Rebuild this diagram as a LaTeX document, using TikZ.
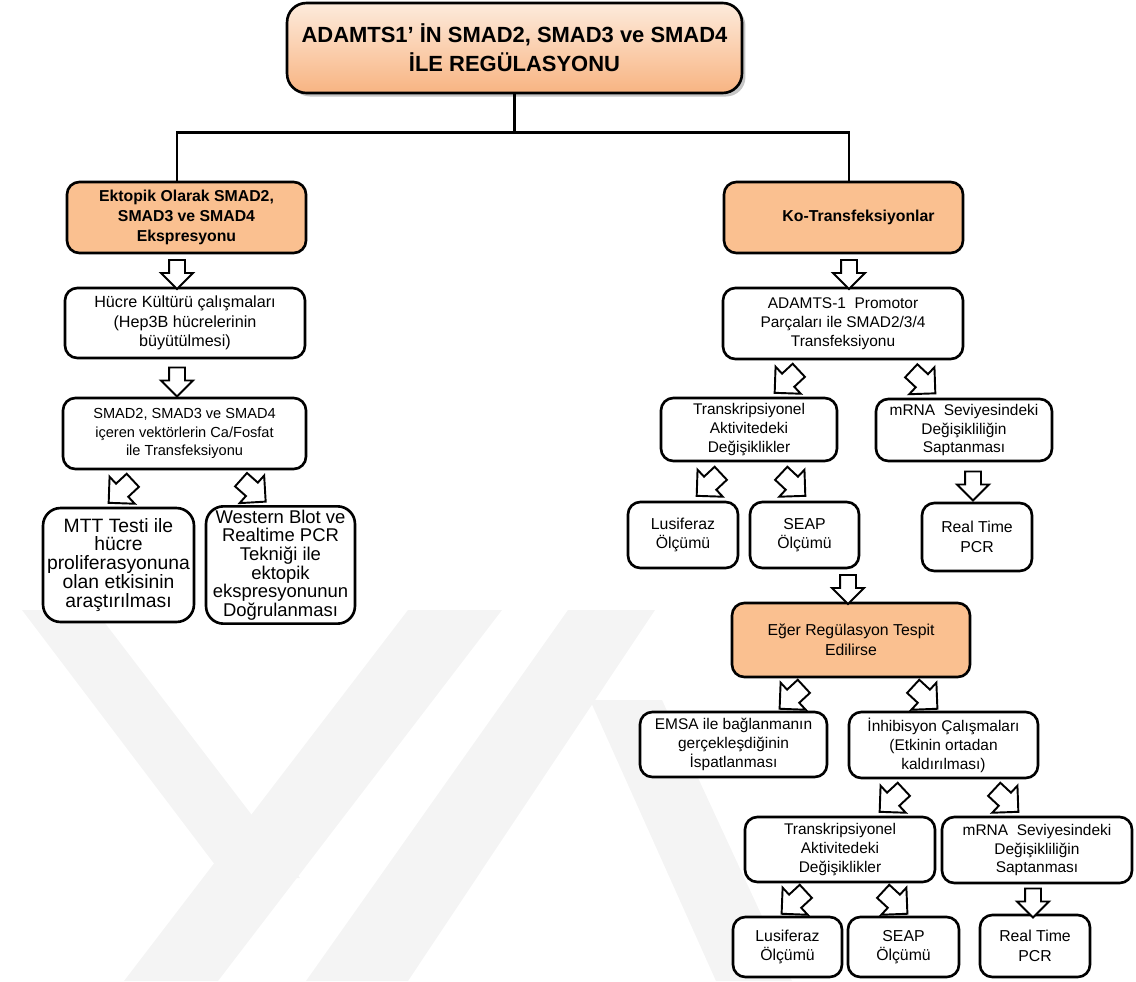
\documentclass[tikz,border=0pt]{standalone}
\usepackage{fontspec}
\setmainfont{Liberation Sans}
\usetikzlibrary{arrows.meta,positioning,calc,shapes.arrows,shadows}
\definecolor{porange}{HTML}{FAC090}
\definecolor{ptitlet}{HTML}{FDEBDC}
\definecolor{ptitleb}{HTML}{F8B482}
\definecolor{wmark}{HTML}{F4F4F4}
\tikzset{
  % white rounded box with a heavy black stroke
  box/.style   = {rectangle, rounded corners=7pt, draw=black, line width=1.5pt, fill=white,
                  align=center, inner sep=2pt, font=\fontsize{8.8}{10.8}\selectfont},
  hdr/.style   = {box, fill=porange, font=\fontsize{9}{11.4}\selectfont\bfseries},
  ttl/.style   = {box, rounded corners=11pt, top color=ptitlet, bottom color=ptitleb,
                  drop shadow={shadow xshift=2pt, shadow yshift=-2pt, opacity=0.45},
                  font=\fontsize{12.5}{16.5}\selectfont\bfseries},
  trunk/.style = {line width=1.6pt, black},
  band/.style  = {fill=wmark, draw=none},
  harrow/.style  = {single arrow, draw=black, line width=1.1pt, fill=white, inner sep=0.14cm,
                    minimum height=0.58cm, single arrow head extend=0.16cm},
  harrowd/.style = {harrow, inner sep=0.16cm, minimum height=0.66cm, single arrow head extend=0.19cm},
}

\begin{document}
\begin{tikzpicture}[x=0.02cm, y=-0.02cm]
\useasboundingbox (0,0) rectangle (1136,981);

% faint watermark behind everything
\fill[band] (22,610) -- (95,610) -- (300,878) -- (225,878) -- cycle;
\fill[band] (408,610) -- (502,610) -- (218,981) -- (124,981) -- cycle;
\fill[band] (568,610) -- (655,610) -- (408,981) -- (306,981) -- cycle;
\fill[band] (590,700) -- (662,700) -- (792,981) -- (716,981) -- cycle;

% title and fork
\node[ttl, minimum width=9.1cm, minimum height=1.8cm] (title) at (514.5,48)
  {ADAMTS1’ İN SMAD2, SMAD3 ve SMAD4\\İLE REGÜLASYONU};

% left branch
\node[hdr, minimum width=4.78cm, minimum height=1.42cm] (ekt) at (186.5,217.5)
  {Ektopik Olarak SMAD2,\\SMAD3 ve SMAD4\\Ekspresyonu};
\node[box, minimum width=4.8cm, minimum height=1.4cm, font=\fontsize{9.2}{11.2}\selectfont] (cult) at (185,323)
  {Hücre Kültürü çalışmaları\\(Hep3B hücrelerinin\\büyütülmesi)};
\node[box, minimum width=4.86cm, minimum height=1.42cm, font=\fontsize{8.3}{10.5}\selectfont] (tfx) at (184.5,433.5)
  {SMAD2, SMAD3 ve SMAD4\\içeren vektörlerin Ca/Fosfat\\ile Transfeksiyonu};
\node[box, rounded corners=10pt, minimum width=3.02cm, minimum height=2.28cm, font=\fontsize{11}{10.8}\selectfont] (mtt) at (118.5,565)
  {MTT Testi ile\\hücre\\proliferasyonuna\\olan etkisinin\\araştırılması};
\node[box, rounded corners=10pt, minimum width=2.98cm, minimum height=2.28cm, font=\fontsize{10.5}{10.6}\selectfont] (wblot) at (280.5,565)
  {Western Blot ve\\Realtime PCR\\Tekniği ile\\ektopik\\ekspresyonunun\\Doğrulanması};

% right branch
\node[hdr, minimum width=4.78cm, minimum height=1.42cm] (kotf) at (843.5,217.5) {\hspace*{6mm}Ko-Transfeksiyonlar};
\node[box, minimum width=4.8cm, minimum height=1.42cm] (prom) at (843,323.5)
  {ADAMTS-1\ \ Promotor\\Parçaları ile SMAD2/3/4\\Transfeksiyonu};
\node[box, minimum width=3.52cm, minimum height=1.26cm] (trakt1) at (749,429.5)
  {Transkripsiyonel\\Aktivitedeki\\Değişiklikler};
\node[box, minimum width=3.52cm, minimum height=1.24cm] (mrna1) at (964,430)
  {mRNA\ \ Seviyesindeki\\Değişikliliğin\\Saptanması};
\node[box, minimum width=2.2cm, minimum height=1.32cm, font=\fontsize{9}{11.2}\selectfont] (lus1) at (683,535) {Lusiferaz\\Ölçümü};
\node[box, minimum width=2.18cm, minimum height=1.32cm, font=\fontsize{9}{11.2}\selectfont] (seap1) at (804.5,535) {SEAP\\Ölçümü};
\node[box, minimum width=2.2cm, minimum height=1.36cm, font=\fontsize{9}{11.2}\selectfont] (rtpcr1) at (977,537) {Real Time\\PCR};
\node[hdr, minimum width=4.76cm, minimum height=1.48cm, font=\fontsize{9}{11.2}\selectfont] (eger) at (851,640)
  {Eğer Regülasyon Tespit\\Edilirse};
\node[box, minimum width=3.74cm, minimum height=1.3cm] (emsa) at (733.5,744.5)
  {EMSA\ ile bağlanmanın\\gerçekleşdiğinin\\İspatlanması};
\node[box, minimum width=3.78cm, minimum height=1.32cm] (inhib) at (943.5,745)
  {İnhibisyon Çalışmaları\\(Etkinin ortadan\\kaldırılması)};
\node[box, minimum width=3.8cm, minimum height=1.3cm] (trakt2) at (840,849.5)
  {Transkripsiyonel\\Aktivitedeki\\Değişiklikler};
\node[box, minimum width=3.8cm, minimum height=1.32cm] (mrna2) at (1037,850)
  {mRNA\ \ Seviyesindeki\\Değişikliliğin\\Saptanması};
\node[box, minimum width=2.18cm, minimum height=1.2cm, font=\fontsize{9}{11.2}\selectfont] (lus2) at (787.5,947) {Lusiferaz\\Ölçümü};
\node[box, minimum width=2.22cm, minimum height=1.2cm, font=\fontsize{9}{11.2}\selectfont] (seap2) at (903.5,947) {SEAP\\Ölçümü};
\node[box, minimum width=2.2cm, minimum height=1.24cm, font=\fontsize{9}{11.2}\selectfont] (rtpcr2) at (1035,946) {Real Time\\PCR};

% tree lines
\coordinate (fork) at ($(title.south)+(0,38)$);
\draw[trunk] (title.south) -- (fork);
\draw[trunk] ($(ekt.north)+(-9.5,0)$) |- (fork) -| ($(kotf.north)+(5.5,0)$);

% hollow block arrows, straight down
\foreach \s/\t/\a/\b in {ekt/cult/-9.5/-8, cult/tfx/-8/-7.5, kotf/prom/5.5/6, mrna1/rtpcr1/9/-4,
                         seap1/eger/43.5/-3, mrna2/rtpcr2/-4/-2}
  \path ($(\s.south)+(\a,0)$) -- node[harrow, sloped, allow upside down] (\s-\t) {} ($(\t.north)+(\b,0)$);

% hollow block arrows, slanted
\foreach \s/\t/\a/\b in {tfx/mtt/-41/-14, tfx/wblot/46/-11, prom/trakt1/-33.5/21.5, prom/mrna1/57/-24,
                         trakt1/lus1/-16.5/8.5, trakt1/seap1/20.5/6, eger/emsa/-38.5/44, eger/inhib/53.5/-4,
                         inhib/trakt2/-29/35.5, inhib/mrna2/40/-14.5, trakt2/lus2/-25.5/-8, trakt2/seap2/34.5/6}
  \path ($(\s.south)+(\a,0)$) -- node[harrowd, sloped, allow upside down] (\s-\t) {} ($(\t.north)+(\b,0)$);
\end{tikzpicture}
\end{document}
